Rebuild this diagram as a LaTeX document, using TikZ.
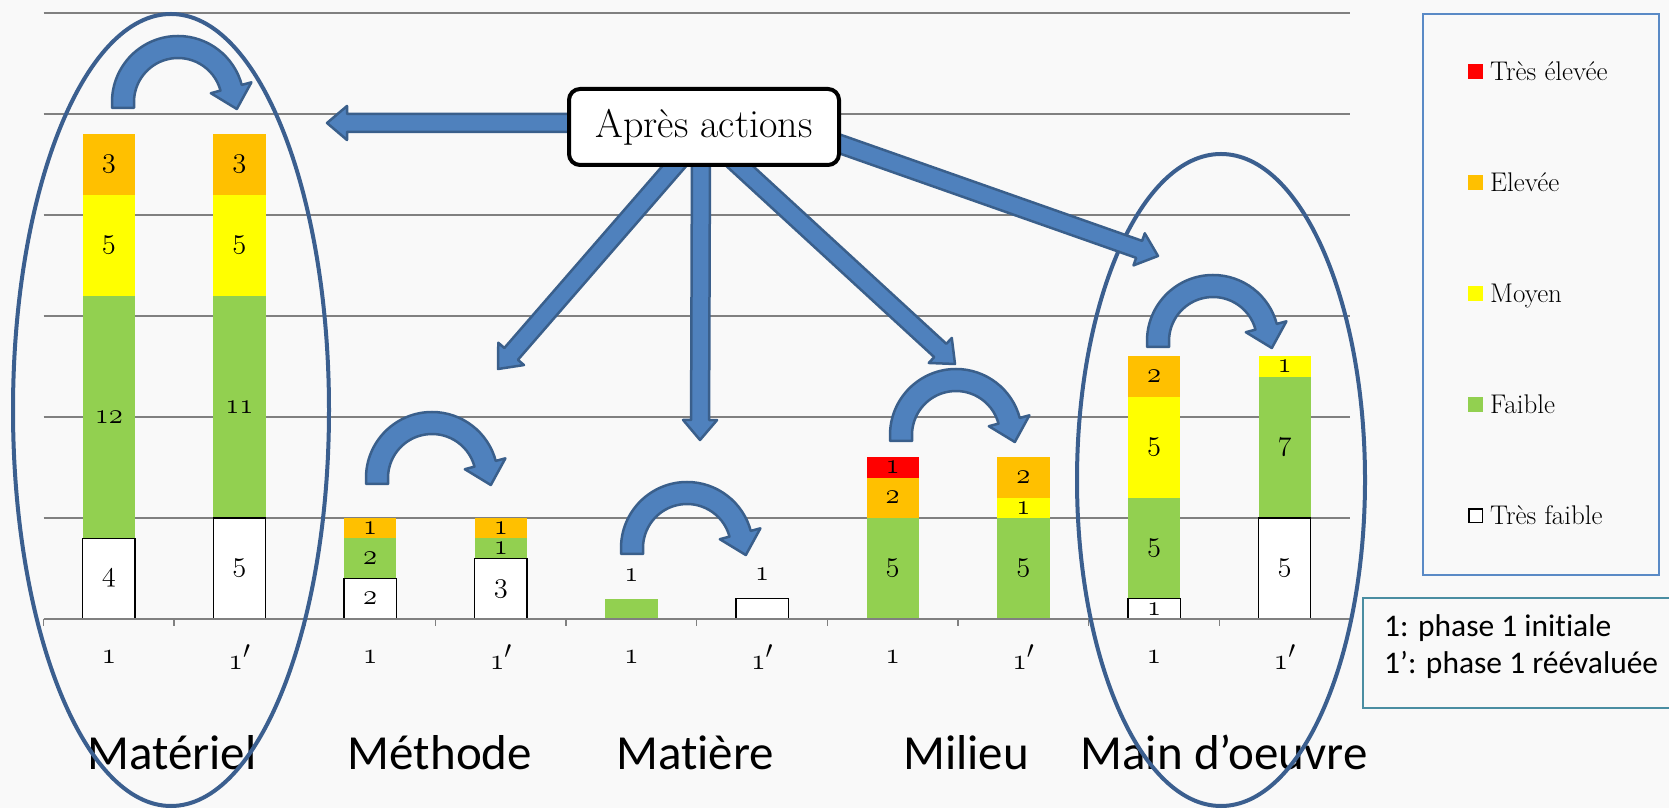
\documentclass[tikz,border=0pt]{standalone}
\usepackage{fontspec}
\usepackage{graphicx}
\newfontfamily\calib[Ligatures=NoCommon]{Carlito}
\usetikzlibrary{calc}

\definecolor{tresele}{HTML}{FF0000}
\definecolor{elevee}{HTML}{FFC000}
\definecolor{moyen}{HTML}{FFFF00}
\definecolor{faible}{HTML}{92D050}
\definecolor{arrowfill}{HTML}{4F81BD}
\definecolor{arrowline}{HTML}{3A5F8B}
\definecolor{ringblue}{HTML}{3B5F8F}
\definecolor{legline}{HTML}{5A8AC6}
\definecolor{noteline}{HTML}{4A8EA2}
\definecolor{paper}{HTML}{F9F9F9}
\definecolor{gridgray}{HTML}{808080}

% old style figures, set at 24.88pt and scaled
\newcommand{\osf}[2][1.2]{\scalebox{#1}{\fontsize{24.88}{28}\usefont{OML}{cmm}{m}{it}#2}}

% block arrow from #1 to #2
\newcommand{\blockarr}[2]{%
  \coordinate (hb) at ($(#2)!20pt!(#1)$);
  \path[blockarrow] ($(#1)!9pt!90:(#2)$) -- ($(hb)!9pt!90:(#2)$)
    -- ($(hb)!17pt!90:(#2)$) -- (#2) -- ($(hb)!17pt!-90:(#2)$)
    -- ($(hb)!9pt!-90:(#2)$) -- ($(#1)!9pt!-90:(#2)$) -- cycle;}

\tikzset{
  seg-tf/.style={fill=white,draw=black,line width=1.3pt},
  seg-f/.style={fill=faible},
  seg-m/.style={fill=moyen},
  seg-e/.style={fill=elevee},
  seg-te/.style={fill=tresele},
  barnum/.style={inner sep=0pt},
  ticklab/.style={inner sep=0pt},
  catlab/.style={font=\calib\fontsize{49}{56}\selectfont,anchor=base,inner sep=0pt},
  legtxt/.style={font=\fontsize{27}{32}\selectfont,anchor=base west,inner sep=0pt},
  legsq/.style={minimum size=15pt,inner sep=0pt},
  notetxt/.style={font=\calib\fontsize{31.5}{36}\selectfont,anchor=base west,inner sep=0pt},
  grid line/.style={draw=gridgray,line width=1.4pt},
  blockarrow/.style={fill=arrowfill,draw=arrowline,line width=2.5pt,line join=round},
  ring/.style={draw=ringblue,line width=4pt},
  actbox/.style={draw=black,line width=4pt,rounded corners=11pt,fill=white,
    minimum width=270pt,minimum height=76pt,font=\fontsize{40}{44}\selectfont},
  uturn/.pic={
    \path[blockarrow] (-66,-6) -- (180:66) arc[start angle=180,end angle=15,radius=66]
      -- ([shift={(15:55)}]15:21) -- ([shift={(15:55)}]-75:22)
      -- ([shift={(15:55)}]195:21) -- (15:44)
      arc[start angle=15,end angle=180,radius=44] -- (-44,-6) -- cycle;
  }
}

\begin{document}
\begin{tikzpicture}[x=1pt,y=1pt]
  \useasboundingbox (0,0) rectangle (1669,808);
  \fill[paper] (0,0) rectangle (1669,808);

  % the chart
  \begin{scope}[shift={(43.5,189)},x=130.65pt,y=20.2pt]
    \foreach \v in {5,10,...,30} \draw[grid line] (0,\v) -- (10,\v);
    \foreach \k/\lo/\hi/\sty/\lab in {
        0/4/16/seg-f/12, 0/16/21/seg-m/5, 0/21/24/seg-e/3, 0/0/4/seg-tf/4,
        1/5/16/seg-f/11, 1/16/21/seg-m/5, 1/21/24/seg-e/3, 1/0/5/seg-tf/5,
        2/2/4/seg-f/2, 2/4/5/seg-e/1, 2/0/2/seg-tf/2,
        3/3/4/seg-f/1, 3/4/5/seg-e/1, 3/0/3/seg-tf/3,
        6/0/5/seg-f/5, 6/5/7/seg-e/2, 6/7/8/seg-te/1,
        7/0/5/seg-f/5, 7/5/6/seg-m/1, 7/6/8/seg-e/2,
        8/1/6/seg-f/5, 8/6/11/seg-m/5, 8/11/13/seg-e/2, 8/0/1/seg-tf/1,
        9/5/12/seg-f/7, 9/12/13/seg-m/1, 9/0/5/seg-tf/5} {
      \path[\sty] (\k+0.3,\lo) rectangle (\k+0.7,\hi);
      \node[barnum] (b\k-\lo) at (\k+0.5,{(\lo+\hi)/2}) {\osf[1.15]{\lab}};
    }
    \path[seg-f] (4.3,0) rectangle (4.7,1);
    \path[seg-tf] (5.3,0) rectangle (5.7,1);
    \node[barnum] (b4top) at (4.5,2.15) {\osf[1.15]{1}};
    \node[barnum] (b5top) at (5.5,2.2) {\osf[1.15]{1}};

    \draw[grid line] (0,0) -- (10,0);
    \foreach \k in {0,...,10} \draw[grid line] (\k,0) -- (\k,-0.35);
    \foreach \k in {0,2,...,8} {
      \node[ticklab] (t\k) at (\k+0.5,-1.88) {\osf{1}};
      \node[ticklab] (tp\k) at (\k+1.5,-1.88) {\osf{1}\scalebox{1.2}{\fontsize{24.88}{28}\selectfont$'$}};
    }
  \end{scope}

  \node[catlab] (cmat) at (172,38) {Matériel};
  \node[catlab] (cmet) at (440,38) {Méthode};
  \node[catlab] (cmtr) at (695,38) {Matière};
  \node[catlab] (cmil) at (966,38) {Milieu};
  \node[catlab] (cmdo) at (1224,38) {Main d’oeuvre};

  % rings round the two groups
  \draw[ring] (171,398) ellipse[x radius=158,y radius=396];
  \draw[ring] (1221,328) ellipse[x radius=144,y radius=326];

  % turn arrows 1 -> 1'
  \pic (umat) at (178,706) {uturn};
  \pic (umet) at (432,330) {uturn};
  \pic (umtr) at (687,260) {uturn};
  \pic (umil) at (956,373) {uturn};
  \pic (umdo) at (1213,467) {uturn};

  % arrows out of the box
  \coordinate (actC) at (704,681);
  \coordinate (stMat) at ($(actC)+(-64,4)$);
  \coordinate (stMet) at ($(actC)+(-14,-21)$);
  \coordinate (stMtr) at ($(actC)+(-3,-21)$);
  \coordinate (stMil) at ($(actC)+(16,-21)$);
  \coordinate (stMdo) at ($(actC)+(96,-3)$);
  \coordinate (tipMat) at (327,685);
  \coordinate (tipMet) at (498,439);
  \coordinate (tipMtr) at (700,368);
  \coordinate (tipMil) at (955,444);
  \coordinate (tipMdo) at (1158,552);
  \blockarr{stMat}{tipMat}
  \blockarr{stMet}{tipMet}
  \blockarr{stMtr}{tipMtr}
  \blockarr{stMil}{tipMil}
  \blockarr{stMdo}{tipMdo}
  \node[actbox] (apres) at (actC) {Après actions};

  % legend
  \draw[legline,line width=2pt] (1423,233) rectangle (1659,794);
  \node[legsq,fill=tresele] (qte) at (1475.5,736) {};
  \node[legsq,fill=elevee] (qel) at (1475.5,625) {};
  \node[legsq,fill=moyen] (qmo) at (1475.5,514) {};
  \node[legsq,fill=faible] (qfa) at (1475.5,403) {};
  \node[legsq,fill=white,draw=black,line width=1.5pt,minimum size=13.5pt] (qtf) at (1475.5,292) {};
  \node[legtxt] (lte) at (1490,727) {Très élevée};
  \node[legtxt] (lel) at (1490,616) {Elevée};
  \node[legtxt] (lmo) at (1490,505) {Moyen};
  \node[legtxt] (lfa) at (1490,394) {Faible};
  \node[legtxt] (ltf) at (1490,283) {Très faible};

  % note on the phases
  \draw[noteline,line width=2pt] (1363,100) rectangle (1680,210);
  \node[notetxt] (ph1) at (1384,171) {1: phase 1 initiale};
  \node[notetxt] (ph2) at (1384,134) {1’: phase 1 réévaluée};
\end{tikzpicture}
\end{document}
